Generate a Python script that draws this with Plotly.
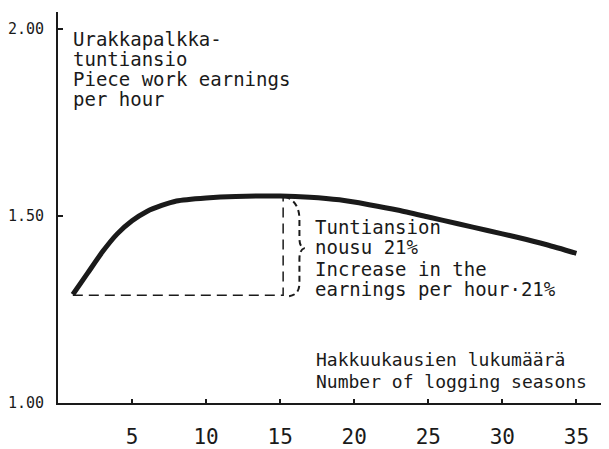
import plotly.graph_objects as go

# Data
seasons = [1, 2, 3, 4, 5, 6, 7, 8, 10, 12, 15, 17, 19, 21, 23, 25, 27, 29, 31, 33, 35]
earnings = [1.29, 1.347, 1.404, 1.452, 1.487, 1.512, 1.528, 1.540, 1.548, 1.552, 1.553,
            1.550, 1.543, 1.530, 1.515, 1.497, 1.479, 1.461, 1.443, 1.423, 1.40]
x_ticks = [5, 10, 15, 20, 25, 30, 35]
y_ticks = [1.0, 1.5, 2.0]
y_tick_labels = ["1.00", "1.50", "2.00"]
base_level = 1.288
peak_season = 15.2

FONT = "DejaVu Sans Mono"
INK = "#1a1a1a"

# page has an 8px body margin; figure is sized so the plot lands where the reference has it
PAGE_OFF = 8
W, H = 609 - PAGE_OFF, 449 - PAGE_OFF
ML, MR, MT, MB = 45, 0, 4, 46
PLOT_L, PLOT_R = PAGE_OFF + ML, PAGE_OFF + W - MR
PLOT_T, PLOT_B = PAGE_OFF + MT, PAGE_OFF + H - MB

fig = go.Figure()
fig.add_trace(go.Scatter(
    x=seasons, y=earnings, mode="lines",
    line=dict(color=INK, width=5, shape="spline", smoothing=0.6),
    hoverinfo="skip", showlegend=False,
))

# dashed guide lines
peak_val = max(earnings)
fig.add_trace(go.Scatter(
    x=[seasons[0], peak_season, peak_season], y=[base_level, base_level, peak_val],
    mode="lines", line=dict(color=INK, width=1.5, dash="10px,6px"),
    hoverinfo="skip", showlegend=False,
))

# dashed brace
fig.add_shape(
    type="path", xref="x", yref="y",
    path=("M 15.3 1.552 Q 16.3 1.54 16.3 1.49 L 16.3 1.44 Q 16.3 1.416 16.65 1.414 "
          "Q 16.3 1.41 16.3 1.385 L 16.3 1.32 Q 16.3 1.285 15.4 1.285"),
    line=dict(color=INK, width=2, dash="6px,4px"),
)

lines_tl = ["Urakkapalkka-", "tuntiansio", "Piece work earnings", "per hour"]
ys_tl = [39, 59, 79, 99]
lines_mid = ["Tuntiansion", "nousu 21%", "Increase in the", "earnings per hour\u00b721%"]
ys_mid = [227, 247, 269, 289]
lines_x = ["Hakkuukausien lukumäärä", "Number of logging seasons"]
ys_x = [359, 381]


def px_x(px):
    return (px - PLOT_L) / (PLOT_R - PLOT_L)


def px_y(py):
    return (PLOT_B - py) / (PLOT_B - PLOT_T)


for txt, py in zip(lines_tl, ys_tl):
    fig.add_annotation(x=px_x(66), y=px_y(py), xref="paper", yref="paper",
                       text=txt, showarrow=False, xanchor="left", yanchor="middle",
                       font=dict(family=FONT, size=19, color=INK))
for txt, py in zip(lines_mid, ys_mid):
    fig.add_annotation(x=px_x(310), y=px_y(py), xref="paper", yref="paper",
                       text=txt, showarrow=False, xanchor="left", yanchor="middle",
                       font=dict(family=FONT, size=19, color=INK))
for txt, py in zip(lines_x, ys_x):
    fig.add_annotation(x=px_x(311), y=px_y(py), xref="paper", yref="paper",
                       text=txt, showarrow=False, xanchor="left", yanchor="middle",
                       font=dict(family=FONT, size=18, color=INK))

fig.update_layout(
    width=W, height=H,
    margin=dict(l=ML, r=MR, t=MT, b=MB, pad=0),
    paper_bgcolor="white", plot_bgcolor="white",
    font=dict(family=FONT, color=INK),
    xaxis=dict(range=[0, 37.2], tickvals=x_ticks, ticks="inside", ticklen=4,
               tickwidth=1.5, tickcolor=INK, showgrid=False, zeroline=False,
               showline=True, linecolor=INK, linewidth=2, ticklabelstandoff=14,
               tickfont=dict(family=FONT, size=21, color=INK)),
    yaxis=dict(range=[1.0, 2.045], tickvals=y_ticks, ticktext=y_tick_labels,
               ticks="inside", ticklen=5, tickwidth=1.5, tickcolor=INK,
               showgrid=False, zeroline=False, showline=True, linecolor=INK,
               linewidth=2, ticklabelstandoff=9,
               tickfont=dict(family=FONT, size=15, color=INK)),
)

fig.write_html("out.html")
